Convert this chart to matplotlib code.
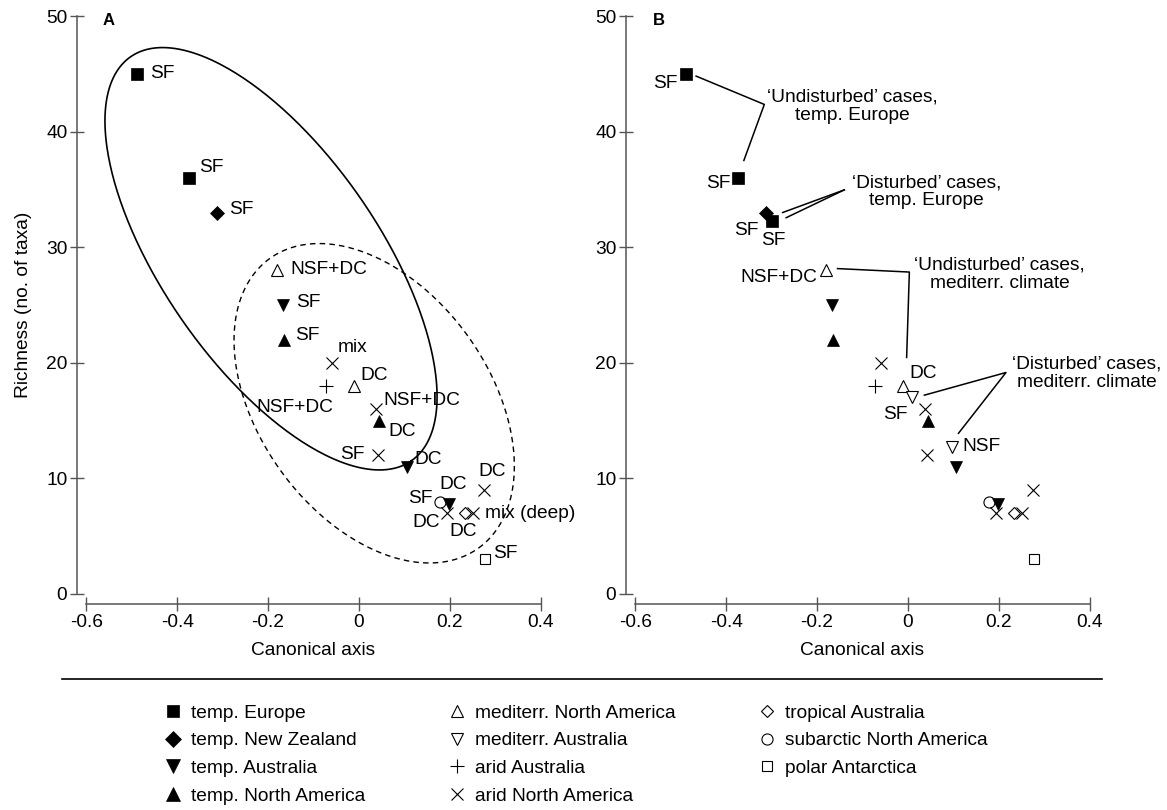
import numpy as np
import matplotlib.pyplot as plt
from matplotlib.lines import Line2D

plt.rcParams['font.family'] = ['Liberation Sans', 'DejaVu Sans']
FS = 13.8
plt.rcParams['font.size'] = FS

W, H = 1167, 810  # figure size in pixels

# --- data: points shared by both panels ---
pts_x = [-0.489, -0.373, -0.312, -0.181, -0.168, -0.164, -0.060, -0.072, -0.011, 0.037,
         0.044, 0.042, 0.105, 0.178, 0.197, 0.193, 0.233, 0.251, 0.275, 0.277]
pts_y = [45, 36, 33, 28, 25, 22, 20, 18, 18, 16,
         15, 12, 11, 8, 7.8, 7, 7, 7, 9, 3]
pts_kind = ['eu', 'eu', 'nz', 'mna', 'tau', 'tna', 'ana', 'aau', 'mna', 'ana',
            'tna', 'ana', 'tau', 'san', 'tau', 'ana', 'tro', 'ana', 'ana', 'pol']
a_labels = ['SF', 'SF', 'SF', 'NSF+DC', 'SF', 'SF', 'mix', 'NSF+DC', 'DC', 'NSF+DC',
            'DC', 'SF', 'DC', 'SF', 'DC', 'DC', 'DC', 'mix (deep)', 'DC', 'SF']

# extra points only in panel B
b_extra_x = [-0.300, 0.008, 0.097]
b_extra_y = [32.3, 17, 12.7]
b_extra_kind = ['eu', 'mau', 'mau']
b_labels = ['SF', 'SF', 'SF', 'NSF+DC', '', '', '', '', 'DC', '',
            '', '', '', '', '', '', '', '', '', '',
            'SF', 'SF', 'NSF']

# legend order (column-wise)
kind_order = ['eu', 'nz', 'tau', 'tna', 'mna', 'mau', 'aau', 'ana', 'tro', 'san', 'pol']
kind_names = ['temp. Europe', 'temp. New Zealand', 'temp. Australia', 'temp. North America',
              'mediterr. North America', 'mediterr. Australia', 'arid Australia',
              'arid North America', 'tropical Australia', 'subarctic North America',
              'polar Antarctica']

# marker styles: (marker, size, filled)
style = {
    'eu': ('s', 8, True), 'nz': ('D', 7, True), 'tau': ('v', 9, True), 'tna': ('^', 9, True),
    'mna': ('^', 8.5, False), 'mau': ('v', 8.5, False), 'aau': ('+', 10, False),
    'ana': ('x', 8, False), 'tro': ('D', 5.8, False), 'san': ('o', 8, False), 'pol': ('s', 7.5, False),
}

# label offsets in pixels (dx, dy, ha)
a_off = [(13, 0, 'left'), (10, 10, 'left'), (12, 3, 'left'), (14, 1, 'left'), (13, 3, 'left'),
         (11, 4, 'left'), (6, 15, 'left'), (7, -22, 'right'), (6, 10, 'left'), (8, 9, 'left'),
         (9, -11, 'left'), (-13, 1, 'right'), (8, 7, 'left'), (-7, 3, 'right'), (5, 19, 'center'),
         (-7, -9, 'right'), (-2, -18, 'center'), (12, 0, 'left'), (8, 18, 'center'), (8, 6, 'left')]
b_off = {0: (-8, -10, 'right'), 1: (-8, -6, 'right'), 2: (-8, -18, 'right'), 3: (-8, -7, 'right'),
         8: (6, 12, 'left'), 20: (2, -20, 'center'), 21: (-4, -17, 'right'), 22: (10, 1, 'left')}


def mk(ax, x, y, kind, z=3):
    m, s, filled = style[kind]
    if filled:
        ax.plot(x, y, m, ms=s, mfc='black', mec='black', mew=0.5, zorder=z)
    else:
        ax.plot(x, y, m, ms=s, mfc='white' if m not in '+x' else 'none', mec='black',
                mew=0.8, zorder=z)


def ellipse(ax, cx, cy, a, b, ang, **kw):
    # ellipse defined in screen pixels around a data centre
    t = np.linspace(0, 2 * np.pi, 400)
    u, v = a * np.cos(t), b * np.sin(t)
    r = np.deg2rad(ang)
    c = ax.transData.transform((cx, cy))
    d = np.column_stack([c[0] + u * np.cos(r) - v * np.sin(r), c[1] + u * np.sin(r) + v * np.cos(r)])
    p = ax.transData.inverted().transform(d)
    ax.plot(p[:, 0], p[:, 1], color='black', **kw)


fig = plt.figure(figsize=(W / 100, H / 100), dpi=100)


def make_axes(x0_px):
    left = x0_px - 0.62 * 454.7
    right = x0_px + 0.45 * 454.7
    top, bottom = 594 - 50.5 * 11.56, 594 + 0.9 * 11.56
    ax = fig.add_axes([left / W, 1 - bottom / H, (right - left) / W, (bottom - top) / H])
    ax.set_xlim(-0.62, 0.45)
    ax.set_ylim(-0.9, 50.5)
    for s in ['top', 'right']:
        ax.spines[s].set_visible(False)
    for s in ['left', 'bottom']:
        ax.spines[s].set_color('#555555')
        ax.spines[s].set_linewidth(1.1)
    ax.spines['left'].set_bounds(0, 50)
    ax.spines['bottom'].set_bounds(-0.6, 0.4)
    ax.set_xticks([-0.6, -0.4, -0.2, 0, 0.2, 0.4])
    ax.set_xticklabels(['-0.6', '-0.4', '-0.2', '0', '0.2', '0.4'])
    ax.set_yticks([0, 10, 20, 30, 40, 50])
    ax.tick_params(direction='inout', length=10, width=1, color='#555555', labelsize=FS)
    ax.tick_params(axis='y', pad=2)
    ax.tick_params(axis='x', pad=2)
    ax.patch.set_visible(False)
    ax.set_xlabel('Canonical axis', fontsize=FS)
    ax.xaxis.set_label_coords(0.485, -0.064)
    return ax


axA = make_axes(359)
axB = make_axes(908)
axA.set_ylabel('Richness (no. of taxa)', fontsize=FS)
axA.yaxis.set_label_coords(-0.093, 0.505)
axA.text(-0.565, 49.6, 'A', fontsize=12, fontweight='bold', va='center')
axB.text(-0.56, 49.6, 'B', fontsize=12, fontweight='bold', va='center')

# panel A
for i in range(len(pts_x)):
    mk(axA, pts_x[i], pts_y[i], pts_kind[i])
    dx, dy, ha = a_off[i]
    axA.annotate(a_labels[i], (pts_x[i], pts_y[i]), xytext=(dx, dy), textcoords='offset pixels',
                 ha=ha, va='center', fontsize=FS)

ellipse(axA, -0.1935, 29.0, 246, 108, -55.2, lw=1.2)
ellipse(axA, 0.0334, 16.5, 178.5, 115.3, -54.2, lw=1.0, linestyle=(0, (4, 3)))

# panel B
bx = pts_x + b_extra_x
by = pts_y + b_extra_y
bk = pts_kind + b_extra_kind
for i in range(len(bx)):
    mk(axB, bx[i], by[i], bk[i])
    if b_labels[i]:
        dx, dy, ha = b_off[i]
        axB.annotate(b_labels[i], (bx[i], by[i]), xytext=(dx, dy), textcoords='offset pixels',
                     ha=ha, va='center', fontsize=FS)

# call-outs in panel B: text, text position, leader lines
callouts = [
    ('\u2018Undisturbed\u2019 cases,\ntemp. Europe', (-0.122, 42.2),
     [[(-0.466, 44.8), (-0.316, 42.35), (-0.361, 37.5)]]),
    ('\u2018Disturbed\u2019 cases,\ntemp. Europe', (0.04, 34.8),
     [[(-0.2756, 33.0), (-0.140, 34.96)], [(-0.268, 32.55), (-0.140, 34.96)]]),
    ('\u2018Undisturbed\u2019 cases,\nmediterr. climate', (0.202, 27.65),
     [[(-0.155, 28.15), (0.003, 27.85), (-0.003, 20.46)]]),
    ('\u2018Disturbed\u2019 cases,\nmediterr. climate', (0.394, 19.1),
     [[(0.036, 17.2), (0.2155, 19.16), (0.111, 13.9)]]),
]
for txt, pos, lines in callouts:
    axB.text(pos[0], pos[1], txt, ha='center', va='center', fontsize=FS, linespacing=1.1)
    for ln in lines:
        xs, ys = zip(*ln)
        axB.plot(xs, ys, color='black', lw=1.1, zorder=2)

# separator line and legend
fig.add_artist(Line2D([62 / W, 1102 / W], [1 - 679 / H] * 2, color='black', lw=1.2))
handles = []
for k, name in zip(kind_order, kind_names):
    m, s, filled = style[k]
    if filled:
        h = Line2D([], [], ls='none', marker=m, ms=s * 1.12, mfc='black', mec='black', mew=0.5, label=name)
    else:
        h = Line2D([], [], ls='none', marker=m, ms=s, mfc='none', mec='black', mew=0.8, label=name)
    handles.append(h)
fig.legend(handles=handles, ncol=3, frameon=False, loc='upper left',
           bbox_to_anchor=(163.5 / W, 1 - 704.5 / H), handlelength=1.0, handletextpad=0.45,
           columnspacing=4.26, labelspacing=0.53, fontsize=FS, borderpad=0, borderaxespad=0)

fig.savefig('out.png', dpi=100)
